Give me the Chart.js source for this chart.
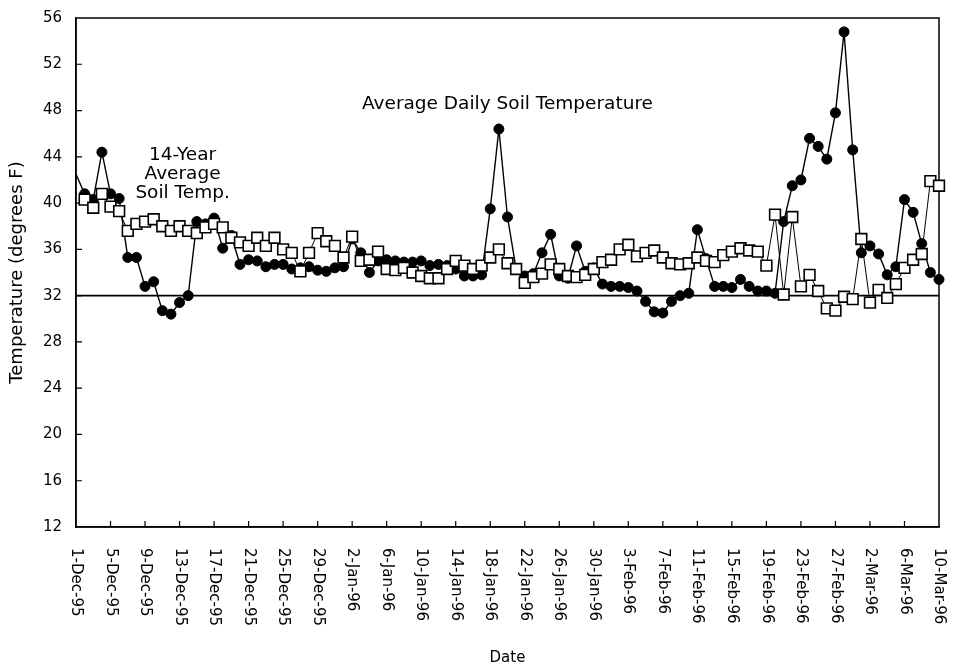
<!DOCTYPE html>
<html><head><meta charset="utf-8">
<script src="https://cdn.jsdelivr.net/npm/chart.js@4.4.1/dist/chart.umd.min.js"></script>
<style>html,body{margin:0;padding:0;background:#fff;}canvas{display:block;}</style>
</head><body>
<canvas id="c" width="954" height="667"></canvas>
<script>
// Day index 0 = 1-Dec-95 ... 100 = 10-Mar-96
const dailyTemp = [
  42.5, 40.8, 40.3, 44.4, 40.8, 40.4, 35.3, 35.3, 32.8, 33.2,
  30.7, 30.4, 31.4, 32.0, 38.4, 38.2, 38.7, 36.1, 37.2, 34.7,
  35.1, 35.0, 34.5, 34.7, 34.7, 34.3, 34.4, 34.5, 34.2, 34.1,
  34.4, 34.5, 36.9, 35.7, 34.0, 35.0, 35.1, 35.0, 34.9, 34.9,
  35.0, 34.6, 34.7, 34.6, 34.3, 33.7, 33.7, 33.8, 39.5, 46.4,
  38.8, 34.3, 33.7, 33.9, 35.7, 37.3, 33.7, 33.5, 36.3, 34.1,
  34.4, 33.0, 32.8, 32.8, 32.7, 32.4, 31.5, 30.6, 30.5, 31.5,
  32.0, 32.2, 37.7, 35.2, 32.8, 32.8, 32.7, 33.4, 32.8, 32.4,
  32.4, 32.2, 38.4, 41.5, 42.0, 45.6, 44.9, 43.8, 47.8, 54.8,
  44.6, 35.7, 36.3, 35.6, 33.8, 34.5, 40.3, 39.2, 36.5, 34.0,
  33.4
];
const avgTemp = [
  null, 40.3, 39.6, 40.8, 39.7, 39.3, 37.6, 38.2, 38.4, 38.6,
  38.0, 37.6, 38.0, 37.6, 37.4, 37.9, 38.2, 37.9, 37.0, 36.6,
  36.3, 37.0, 36.3, 37.0, 36.0, 35.7, 34.1, 35.7, 37.4, 36.7,
  36.3, 35.3, 37.1, 35.0, 35.1, 35.8, 34.3, 34.2, 34.4, 34.0,
  33.7, 33.5, 33.5, 34.3, 35.0, 34.6, 34.3, 34.6, 35.3, 36.0,
  34.8, 34.3, 33.1, 33.6, 33.9, 34.7, 34.3, 33.7, 33.6, 33.8,
  34.3, 34.9, 35.1, 36.0, 36.4, 35.4, 35.7, 35.9, 35.3, 34.8,
  34.7, 34.8, 35.3, 35.0, 34.9, 35.5, 35.8, 36.1, 35.9, 35.8,
  34.6, 39.0, 32.1, 38.8, 32.8, 33.8, 32.4, 30.9, 30.7, 31.9,
  31.7, 36.9, 31.4, 32.5, 31.8, 33.0, 34.4, 35.1, 35.6, 41.9,
  41.5
];
const freezingLine = 32;
const tickLabels = [
  '1-Dec-95','5-Dec-95','9-Dec-95','13-Dec-95','17-Dec-95','21-Dec-95','25-Dec-95','29-Dec-95',
  '2-Jan-96','6-Jan-96','10-Jan-96','14-Jan-96','18-Jan-96','22-Jan-96','26-Jan-96','30-Jan-96',
  '3-Feb-96','7-Feb-96','11-Feb-96','15-Feb-96','19-Feb-96','23-Feb-96','27-Feb-96',
  '2-Mar-96','6-Mar-96','10-Mar-96'
];
const tickStep = 4;
const yMin = 12, yMax = 56, yStep = 4;

const FONT = "'DejaVu Sans', sans-serif";
const annotations = [
  {text: 'Average Daily Soil Temperature', x: 50.0, y: 48.55, size: 18.5},
  {text: '14-Year', x: 12.35, y: 44.15, size: 18.5},
  {text: 'Average', x: 12.35, y: 42.5, size: 18.5},
  {text: 'Soil Temp.', x: 12.35, y: 40.85, size: 18.5}
];

const framePlugin = {
  id: 'frame',
  beforeDraw(chart) {
    const c = chart.ctx;
    c.save(); c.fillStyle = '#fff'; c.fillRect(0, 0, chart.width, chart.height); c.restore();
  },
  beforeDatasetsDraw(chart) {
    const {ctx, chartArea: a, scales: {x, y}} = chart;
    ctx.save();
    ctx.strokeStyle = '#000';
    ctx.lineWidth = 1.5;
    ctx.strokeRect(a.left, a.top, a.right - a.left, a.bottom - a.top);
    ctx.lineWidth = 1.2;
    ctx.beginPath();
    for (let v = yMin + yStep; v < yMax; v += yStep) {
      const py = y.getPixelForValue(v);
      ctx.moveTo(a.left, py); ctx.lineTo(a.left + 6, py);
    }
    for (let i = 1; i < tickLabels.length - 1; i++) {
      const px = x.getPixelForValue(i * tickStep);
      ctx.moveTo(px, a.bottom); ctx.lineTo(px, a.bottom - 6);
    }
    ctx.stroke();
    ctx.restore();
  },
  afterDraw(chart) {
    const {ctx, chartArea: a, scales: {x, y}} = chart;
    ctx.save();
    ctx.fillStyle = '#000';
    ctx.font = "15px " + FONT;
    ctx.textAlign = 'left';
    ctx.textBaseline = 'middle';
    tickLabels.forEach((lab, i) => {
      const px = x.getPixelForValue(i * tickStep);
      ctx.save();
      ctx.translate(px, a.bottom + 21);
      ctx.rotate(Math.PI / 2);
      ctx.fillText(lab, 0, 0);
      ctx.restore();
    });
    ctx.textAlign = 'center';
    annotations.forEach(an => {
      ctx.font = an.size + "px " + FONT;
      ctx.fillText(an.text, x.getPixelForValue(an.x), y.getPixelForValue(an.y));
    });
    ctx.restore();
  }
};

new Chart(document.getElementById('c'), {
  type: 'line',
  data: {
    datasets: [
      {
        label: '14-Year Average Soil Temp.',
        data: avgTemp.map((v, i) => ({x: i, y: v})),
        borderColor: '#000', borderWidth: 1,
        pointStyle: 'rect', pointRadius: 7.6, pointBorderWidth: 1.6,
        pointBackgroundColor: '#fff', pointBorderColor: '#000',
        tension: 0, clip: false, order: 0
      },
      {
        label: 'Average Daily Soil Temperature',
        data: dailyTemp.map((v, i) => ({x: i, y: v})),
        borderColor: '#000', borderWidth: 1.4,
        pointStyle: 'circle', pointRadius: c => c.dataIndex === 0 ? 0 : 5,
        pointBorderWidth: 1, pointBackgroundColor: '#000', pointBorderColor: '#000',
        tension: 0, clip: false, order: 1
      },
      {
        label: 'Freezing',
        data: [{x: 0, y: freezingLine}, {x: (tickLabels.length - 1) * tickStep, y: freezingLine}],
        borderColor: '#000', borderWidth: 1.6, pointRadius: 0, tension: 0, order: 2
      }
    ]
  },
  options: {
    responsive: false, animation: false, devicePixelRatio: 1,
    layout: {padding: {top: 18, right: 15, left: 0, bottom: 0}},
    plugins: {legend: {display: false}, tooltip: {enabled: false}},
    scales: {
      x: {
        type: 'linear', min: 0, max: (tickLabels.length - 1) * tickStep,
        ticks: {stepSize: tickStep, display: false},
        grid: {display: false},
        border: {display: true, color: '#000', width: 1.5},
        title: {display: true, text: 'Date', color: '#000', font: {family: FONT, size: 15}, padding: {top: 0, bottom: 0}},
        afterFit(s) { s.height = 140; s.paddingLeft = 0; s.paddingRight = 0; }
      },
      y: {
        min: yMin, max: yMax,
        ticks: {stepSize: yStep, color: '#000', font: {family: FONT, size: 15}, padding: 14},
        grid: {display: false, drawTicks: false},
        border: {display: true, color: '#000', width: 1.5},
        title: {display: true, text: 'Temperature (degrees F)', color: '#000', font: {family: FONT, size: 18}, padding: {top: 7, bottom: 0}},
        afterFit(s) { s.width = 76; s.paddingTop = 0; s.paddingBottom = 0; }
      }
    }
  },
  plugins: [framePlugin]
});
</script>
</body></html>
